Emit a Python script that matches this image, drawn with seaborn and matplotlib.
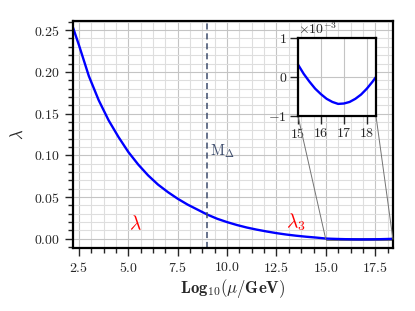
import matplotlib
matplotlib.use('Agg')
import matplotlib.pyplot as plt
from matplotlib.ticker import MultipleLocator, AutoMinorLocator
from mpl_toolkits.axes_grid1.inset_locator import mark_inset
import seaborn as sns
import numpy as np
import pandas as pd

# running quartic coupling vs log10(mu/GeV)
log_mu = [2.2, 2.5, 3.0, 3.5, 4.0, 4.5, 5.0, 5.5, 6.0, 6.5, 7.0, 7.5, 8.0, 8.5,
          9.0, 9.5, 10.0, 10.5, 11.0, 11.5, 12.0, 12.5, 13.0, 13.5, 14.0, 14.5,
          15.0, 15.25, 15.5, 15.75, 16.0, 16.25, 16.5, 16.75, 17.0, 17.25,
          17.5, 17.75, 18.0, 18.25, 18.4]
lam = [0.253, 0.232, 0.195, 0.166, 0.142, 0.122, 0.104, 0.089, 0.076, 0.065,
       0.056, 0.048, 0.041, 0.035, 0.029, 0.024, 0.020, 0.0165, 0.0135, 0.011,
       0.0088, 0.0068, 0.0051, 0.0037, 0.0025, 0.0015,
       0.00032, 0.00008, -0.00012, -0.00030, -0.00044, -0.00056, -0.00064,
       -0.00069, -0.00068, -0.00064, -0.00056, -0.00045, -0.00030, -0.00012,
       0.0]
m_delta = 9.0

df = pd.DataFrame({"log_mu": log_mu, "lam": lam})

sns.set_style("ticks")
plt.rcParams['font.family'] = ['cmr10', 'DejaVu Serif']
plt.rcParams['mathtext.fontset'] = 'cm'
plt.rcParams['axes.formatter.use_mathtext'] = True
plt.rcParams['axes.unicode_minus'] = True

fig = plt.figure(figsize=(4.15, 3.11), dpi=100)
ax = fig.add_axes([0.176, 0.2026, 0.771, 0.730])

sns.lineplot(data=df, x="log_mu", y="lam", ax=ax, color='blue', lw=1.7)
ax.axvline(m_delta, color='#3d4c6c', ls='--', lw=1.1, dashes=(4, 2.5))

ax.set_xlim(2.2, 18.4)
ax.set_ylim(-0.011, 0.261)
ax.xaxis.set_major_locator(MultipleLocator(2.5))
ax.xaxis.set_minor_locator(AutoMinorLocator(4))
ax.yaxis.set_major_locator(MultipleLocator(0.05))
ax.yaxis.set_minor_locator(AutoMinorLocator(5))
ax.grid(which='major', color='#c4c4c4', lw=0.8)
ax.grid(which='minor', color='#dedede', lw=0.8)
ax.tick_params(which='major', length=6, width=1.0, labelsize=10, direction='out')
ax.tick_params(which='minor', length=3.5, width=1.0, direction='out')
for s in ax.spines.values():
    s.set_linewidth(1.6)
    s.set_color('black')

ax.set_xlabel(r'$\mathbf{Log}_\mathbf{10}(\mu/\mathbf{GeV})$', fontsize=12, labelpad=1)
ax.set_ylabel(r'$\lambda$', fontsize=12, labelpad=6)

ax.text(5.05, 0.012, r'$\lambda$', color='red', fontsize=14)
ax.text(13.0, 0.013, r'$\lambda_\mathbf{3}$', color='red', fontsize=14)
ax.text(9.15, 0.100, r'$\mathrm{M}_\Delta$', color='#3d4c6c', fontsize=11)

# inset zoom on the high-scale region
axins = fig.add_axes([0.718, 0.627, 0.188, 0.251])
sns.lineplot(data=df, x="log_mu", y="lam", ax=axins, color='blue', lw=1.7)
axins.set_xlim(15, 18.4)
axins.set_ylim(-0.001, 0.001)
axins.xaxis.set_major_locator(MultipleLocator(1))
axins.yaxis.set_major_locator(MultipleLocator(0.001))
axins.ticklabel_format(axis='y', style='sci', scilimits=(0, 0))
axins.yaxis.get_offset_text().set_fontsize(10)
axins.set_xlabel('')
axins.set_ylabel('')
axins.grid(which='major', color='#c4c4c4', lw=0.8)
axins.tick_params(which='major', length=6, width=1.0, labelsize=10, direction='out', pad=2)
for s in axins.spines.values():
    s.set_linewidth(1.6)
    s.set_color('black')
axins.set_facecolor('white')

mark_inset(ax, axins, loc1=3, loc2=4, fc='none', ec='0.45', lw=0.7)

fig.savefig('out.png', dpi=100)
